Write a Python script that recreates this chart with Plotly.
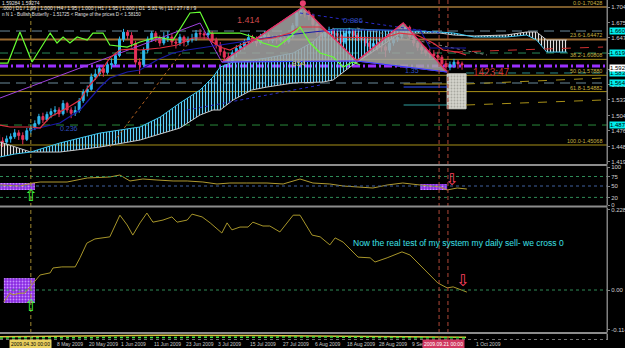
import plotly.graph_objects as go

# ---------------- data ----------------
# daily bars, bar 0 = 20 Apr 2009
bar_idx = list(range(116))
opens = [1.470,1.458,1.456,1.462,1.466,1.473,1.468,1.461,1.477,1.482,
         1.490,1.503,1.497,1.507,1.512,1.515,1.508,1.527,1.515,1.509,
         1.514,1.532,1.548,1.553,1.576,1.581,1.591,1.584,1.598,1.600,
         1.615,1.645,1.658,1.652,1.637,1.603,1.598,1.625,1.645,1.656,
         1.647,1.638,1.648,1.649,1.640,1.638,1.649,1.640,1.644,1.646,
         1.656,1.655,1.653,1.656,1.643,1.634,1.622,1.612,1.606,1.620,
         1.628,1.632,1.640,1.648,1.645,1.638,1.649,1.652,1.643,1.645,
         1.644,1.647,1.641,1.650,1.670,1.693,1.698,1.695,1.688,1.672,
         1.656,1.650,1.656,1.662,1.656,1.652,1.640,1.656,1.660,1.652,
         1.649,1.645,1.638,1.632,1.637,1.631,1.631,1.625,1.638,1.645,
         1.649,1.660,1.667,1.650,1.638,1.630,1.625,1.620,1.618,1.615,
         1.612,1.600,1.594,1.598,1.603,1.600]
highs = [1.474,1.465,1.468,1.472,1.480,1.478,1.474,1.482,1.488,1.496,
         1.508,1.510,1.512,1.518,1.522,1.520,1.533,1.530,1.520,1.522,
         1.537,1.553,1.560,1.582,1.590,1.596,1.598,1.603,1.610,1.620,
         1.650,1.664,1.662,1.658,1.642,1.610,1.630,1.650,1.660,1.660,
         1.652,1.658,1.660,1.655,1.646,1.655,1.652,1.650,1.655,1.662,
         1.664,1.660,1.662,1.660,1.648,1.640,1.628,1.620,1.625,1.634,
         1.638,1.645,1.655,1.653,1.650,1.655,1.660,1.656,1.652,1.652,
         1.655,1.650,1.656,1.675,1.697,1.7043,1.702,1.699,1.692,1.678,
         1.662,1.661,1.668,1.666,1.660,1.655,1.660,1.666,1.663,1.657,
         1.654,1.650,1.642,1.643,1.641,1.638,1.635,1.642,1.650,1.654,
         1.665,1.672,1.670,1.656,1.642,1.636,1.631,1.628,1.625,1.622,
         1.616,1.606,1.604,1.609,1.607,1.604]
lows = [1.452,1.447,1.450,1.455,1.462,1.460,1.452,1.458,1.470,1.478,
        1.487,1.491,1.494,1.500,1.505,1.502,1.505,1.510,1.500,1.504,
        1.510,1.528,1.540,1.550,1.570,1.577,1.576,1.580,1.590,1.596,
        1.612,1.640,1.645,1.630,1.598,1.581,1.594,1.620,1.640,1.640,
        1.632,1.634,1.640,1.634,1.628,1.633,1.632,1.634,1.639,1.642,
        1.648,1.645,1.648,1.638,1.628,1.615,1.605,1.598,1.602,1.612,
        1.622,1.626,1.636,1.638,1.632,1.635,1.644,1.638,1.638,1.637,
        1.640,1.635,1.637,1.646,1.666,1.688,1.685,1.680,1.665,1.650,
        1.643,1.645,1.650,1.650,1.645,1.634,1.636,1.650,1.646,1.642,
        1.639,1.632,1.626,1.628,1.624,1.622,1.612,1.620,1.633,1.640,
        1.645,1.655,1.645,1.632,1.624,1.618,1.614,1.610,1.608,1.605,
        1.594,1.586,1.588,1.592,1.591,1.589]
closes = [1.458,1.456,1.462,1.466,1.473,1.468,1.461,1.477,1.482,1.490,
          1.503,1.497,1.507,1.512,1.515,1.508,1.527,1.515,1.509,1.514,
          1.532,1.548,1.553,1.576,1.581,1.591,1.584,1.598,1.600,1.615,
          1.645,1.658,1.652,1.637,1.603,1.598,1.625,1.645,1.656,1.647,
          1.638,1.648,1.649,1.640,1.638,1.649,1.640,1.644,1.646,1.656,
          1.655,1.653,1.656,1.643,1.634,1.622,1.612,1.606,1.620,1.628,
          1.632,1.640,1.648,1.645,1.638,1.649,1.652,1.643,1.645,1.644,
          1.647,1.641,1.650,1.670,1.693,1.698,1.695,1.688,1.672,1.656,
          1.650,1.656,1.662,1.656,1.652,1.640,1.656,1.660,1.652,1.649,
          1.645,1.638,1.632,1.637,1.631,1.631,1.625,1.638,1.645,1.649,
          1.660,1.667,1.650,1.638,1.630,1.625,1.620,1.618,1.615,1.612,
          1.600,1.594,1.598,1.603,1.600,1.598]

# Ichimoku cloud boundaries
cloud_x = [0.35, 4.0, 8.0, 15.2, 25.2, 35.1, 40.1, 45.0, 50.0, 53.2, 55.0, 58.2, 62.8, 66.6, 73.1,
           78.0, 80.5, 83.0, 87.2, 94.6, 99.6, 109.5, 113.0, 118.0, 126.0, 131.0, 133.5, 136.0, 141.0]
span_a = [1.4287, 1.4341, 1.4378, 1.4544, 1.4727, 1.4838, 1.5021, 1.5279, 1.5517, 1.5756, 1.5940, 1.6032,
          1.6068, 1.6105, 1.6197, 1.6400, 1.6564, 1.6640, 1.6640, 1.6620, 1.6620, 1.6583, 1.6564, 1.6491,
          1.6491, 1.6528, 1.6436, 1.6215, 1.6215]
span_b = [1.4562, 1.4470, 1.4378, 1.4378, 1.4470, 1.4599, 1.4710, 1.4819, 1.5058, 1.5150, 1.5150, 1.5334,
          1.5517, 1.5572, 1.5646, 1.5664, 1.5664, 1.5701, 1.5940, 1.6307, 1.6564, 1.6564, 1.6528, 1.6510,
          1.6528, 1.6583, 1.6583, 1.6436, 1.6436]

chikou_x = [0.35, 2.3, 5.3, 8.3, 12.8, 14.5, 16.0, 17.7, 19.5, 22.0, 23.4, 25.9, 27.6, 31.9, 35.1, 39.3, 43.3,
            47.5, 50.0, 52.5, 55.7, 59.9, 63.1, 65.6, 69.1, 72.3, 74.8, 77.3, 79.8, 83.0, 85.5, 87.9, 89.7]
chikou_y = [1.6013, 1.6013, 1.6583, 1.6032, 1.6564, 1.6381, 1.6491, 1.6381, 1.6491, 1.6436, 1.6564, 1.6564,
            1.6344, 1.6307, 1.6399, 1.6491, 1.6436, 1.6932, 1.6950, 1.6564, 1.6564, 1.6564, 1.6491, 1.6381,
            1.6307, 1.6491, 1.6675, 1.6381, 1.6197, 1.6124, 1.5940, 1.6032, 1.5977]

tenkan_x = [0.35, 2.8, 8.3, 10.3, 12.8, 17.0, 20.2, 22.2, 24.4, 27.6, 30.1, 32.6, 35.1, 40.1, 44.3, 48.2, 51.7,
            54.9, 57.4, 59.9, 63.1, 68.1, 72.3, 74.8, 79.8, 83.0, 95.4, 99.6, 103.8, 107.8, 110.3, 113.8, 116.0]
tenkan_y = [1.4874, 1.4838, 1.4838, 1.4819, 1.5021, 1.5187, 1.5334, 1.5572, 1.5756, 1.6105, 1.6252, 1.6270,
            1.6252, 1.6289, 1.6344, 1.6473, 1.6473, 1.6307, 1.6252, 1.6344, 1.6436, 1.6473, 1.6564, 1.6675,
            1.6675, 1.6491, 1.6473, 1.6564, 1.6528, 1.6381, 1.6252, 1.6215, 1.6160]

kijun_x = [7.8, 15.2, 20.2, 25.2, 27.6, 31.9, 35.1, 39.3, 43.3, 46.8, 51.7, 54.9, 59.9, 64.9, 71.6, 78.0, 83.0,
           104.6, 107.1, 116.0]
kijun_y = [1.4783, 1.4911, 1.5150, 1.5572, 1.5738, 1.5848, 1.5885, 1.6068, 1.6197, 1.6252, 1.6307, 1.6344,
           1.6399, 1.6454, 1.6528, 1.6583, 1.6620, 1.6620, 1.6289, 1.6289]

zigzag_x = [0.35, 46.8, 50.0, 55.4]
zigzag_y = [1.5370, 1.6656, 1.6748, 1.6032]

# Butterfly X-A-B-C-D
pattern_x = [55.4, 75.5, 88.9, 100.4, 111.3]
pattern_y = [1.6032, 1.7043, 1.6050, 1.6748, 1.5848]
ratio_text = ['1.414', '0.886', '854', '1.35', '0.236']
ratio_x = [62.0, 88.0, 74.5, 102.5, 17.5]
ratio_y = [1.6803, 1.6803, 1.6013, 1.5885, 1.4819]

prz_x = [111.3, 116.0]
prz_y = [1.51725, 1.58150]

fib_pct = [0.0, 23.6, 38.2, 50.0, 61.8, 100.0]
fib_price = [1.70428, 1.64472, 1.60808, 1.57880, 1.54882, 1.45068]

level_price = [1.6601, 1.6197, 1.5958, 1.5646, 1.4874]
box_price = [1.66010, 1.61970, 1.58300, 1.56460, 1.48740]
bid_price = 1.59284

trend_x = [[46.8, 79.8], [27.6, 46.8], [74.8, 109.5], [88.9, 121.2]]
trend_y = [[1.5150, 1.5609], [1.4470, 1.6344], [1.6932, 1.6564], [1.6656, 1.6160]]
proj_x = [[113.0, 150.0], [116.0, 150.0], [116.0, 150.0]]
proj_y = [[1.6215, 1.6307], [1.5628, 1.5738], [1.5242, 1.5334]]
short_x = [100.5, 111.3]
short_y = [1.5628, 1.5572, 1.5242]

price_ticks = [1.70420, 1.67570, 1.64730, 1.61880, 1.59030, 1.56190, 1.53340, 1.50490, 1.47650, 1.44800, 1.41950]

rsi_x = [0.35, 5.3, 8.5, 10.3, 17.0, 22.0, 27.6, 30.1, 32.6, 35.8, 39.3, 43.3, 46.8, 50.7, 54.2, 57.4, 61.6,
         66.6, 70.6, 74.8, 78.0, 82.2, 85.5, 89.7, 92.9, 96.4, 100.3, 104.6, 109.5, 111.3, 113.8, 116.2]
rsi_v = [52.6, 50.0, 57.9, 60.5, 60.5, 71.1, 73.7, 78.9, 63.2, 68.4, 65.8, 63.2, 63.2, 60.5, 55.3, 57.9, 57.9,
         57.9, 55.3, 68.4, 57.9, 55.3, 50.0, 47.4, 44.7, 52.6, 57.9, 52.6, 47.4, 39.5, 44.7, 42.1]
rsi_levels = [75, 50, 20]
rsi_ticks = [100, 75, 50, 20, 0]
rsi_box_x = [[0.35, 9.0], [104.6, 111.3]]
rsi_box_y = [[39.5, 57.9], [39.5, 55.3]]

osc_x = [1.3, 2.8, 3.6, 5.3, 6.5, 8.5, 10.3, 12.8, 13.5, 15.7, 17.0, 19.0, 20.2, 21.9, 23.9, 27.6, 30.1, 31.9,
         33.3, 35.1, 36.8, 38.3, 40.8, 43.0, 44.3, 46.8, 48.0, 50.5, 52.5, 55.4, 56.7, 57.9, 59.9, 61.9, 63.1,
         65.6, 67.3, 69.8, 73.1, 74.8, 77.8, 79.8, 82.2, 83.5, 85.5, 89.2, 92.2, 93.4, 96.4, 100.1, 102.1, 105.8,
         109.0, 111.3, 112.8, 116.2]
osc_v = [-0.034, -0.009, -0.014, -0.009, -0.009, 0.020, 0.043, 0.049, 0.063, 0.066, 0.066, 0.066, 0.092, 0.134,
         0.146, 0.152, 0.214, 0.186, 0.157, 0.192, 0.220, 0.194, 0.200, 0.209, 0.194, 0.200, 0.217, 0.209, 0.192,
         0.163, 0.192, 0.172, 0.180, 0.180, 0.194, 0.183, 0.183, 0.166, 0.214, 0.214, 0.157, 0.152, 0.129, 0.149,
         0.137, 0.094, 0.092, 0.080, 0.092, 0.109, 0.100, 0.057, 0.020, 0.006, 0.009, -0.006]
osc_ticks = [0.2288, 0.0, -0.1142]
osc_tick_text = ['0.2288', '0.00', '-0.1142']
osc_box_x = [1.3, 9.0]
osc_box_y = [-0.037, 0.034]

strip_x = [0.35, 20, 40, 60, 80, 100, 116]
strip_a = [0.55, 0.70, 0.80, 0.75, 0.60, 0.50, 0.45]
strip_b = [0.35, 0.40, 0.50, 0.55, 0.50, 0.40, 0.35]

vline_bar = [8.0, 109.3, 111.5]
date_bar = [-1.6, 14, 22, 30, 38, 46, 54, 62, 70, 78, 86, 94, 102, 118]
date_text = ['20 Apr 2009', '8 May 2009', '20 May 2009', '1 Jun 2009', '11 Jun 2009', '23 Jun 2009',
             '3 Jul 2009', '15 Jul 2009', '27 Jul 2009', '6 Aug 2009', '18 Aug 2009', '28 Aug 2009',
             '9 Sep 2009', '1 Oct 2009']
mark_date_bar = [8.0, 110.4]
mark_date_text = ['2009.04.30 00:00', '2009.09.21 00:00']

# ---------------- figure ----------------
H = 348
def dom(top, bot):
    return [1 - bot / H, 1 - top / H]

def py(px):
    return 1 - px / H

FONT = 'Liberation Sans, Arial, sans-serif'
fig = go.Figure()

# cloud
segments = [(0, 3, '#e0e0e0'), (2, 24, '#5fd3ff'), (23, len(cloud_x), '#e0e0e0')]
for a, b, col in segments:
    xs = cloud_x[a:b]
    fig.add_trace(go.Scatter(x=xs, y=span_b[a:b], mode='lines',
                             line=dict(color='#c8c8c8', width=1), xaxis='x', yaxis='y'))
    fig.add_trace(go.Scatter(x=xs, y=span_a[a:b], mode='lines', line=dict(color='#3fc8f0', width=1),
                             fill='tonexty', fillcolor='rgba(0,0,0,0)',
                             fillpattern=dict(shape='|', fgcolor=col, bgcolor='rgba(0,0,0,0)',
                                              size=3, solidity=0.4),
                             xaxis='x', yaxis='y'))

# butterfly triangles
tri = [(0, 1, 2), (2, 3, 4)]
for t in tri:
    fig.add_trace(go.Scatter(x=[pattern_x[i] for i in t] + [pattern_x[t[0]]],
                             y=[pattern_y[i] for i in t] + [pattern_y[t[0]]],
                             mode='lines', fill='toself', fillcolor='rgba(165,165,165,0.85)',
                             line=dict(color='#b050e0', width=1), xaxis='x', yaxis='y'))

# PRZ box
fig.add_trace(go.Scatter(x=[prz_x[0], prz_x[1], prz_x[1], prz_x[0], prz_x[0]],
                         y=[prz_y[0], prz_y[0], prz_y[1], prz_y[1], prz_y[0]],
                         mode='lines', fill='toself', fillcolor='rgba(205,205,195,0.95)',
                         fillpattern=dict(shape='.', fgcolor='#a8a8a0', bgcolor='#d4d4cc', size=3, solidity=0.3),
                         line=dict(color='#d0d0c8', width=1), xaxis='x', yaxis='y'))

# dotted trend lines
trend_col = ['#2a2ac8', '#b06020', '#2a2ac8', '#808080']
for xs, ys, c in zip(trend_x, trend_y, trend_col):
    fig.add_trace(go.Scatter(x=xs, y=ys, mode='lines', line=dict(color=c, width=1, dash='dot'),
                             xaxis='x', yaxis='y'))
proj_col = ['#d03030', '#a89018', '#a89018']
for xs, ys, c in zip(proj_x, proj_y, proj_col):
    fig.add_trace(go.Scatter(x=xs, y=ys, mode='lines', line=dict(color=c, width=1, dash='dash'),
                             xaxis='x', yaxis='y'))
short_col = ['#a89018', '#3050ff', '#30a0a0']
for yv, c in zip(short_y, short_col):
    fig.add_trace(go.Scatter(x=short_x, y=[yv, yv], mode='lines', line=dict(color=c, width=1),
                             xaxis='x', yaxis='y'))

# purple zigzag
fig.add_trace(go.Scatter(x=zigzag_x, y=zigzag_y, mode='lines', line=dict(color='#a040e0', width=1),
                         xaxis='x', yaxis='y'))

# candles
fig.add_trace(go.Candlestick(x=bar_idx, open=opens, high=highs, low=lows, close=closes,
                             increasing=dict(line=dict(color='#2fb8ee', width=1), fillcolor='#2fb8ee'),
                             decreasing=dict(line=dict(color='#e8325a', width=1), fillcolor='#e8325a'),
                             whiskerwidth=0, xaxis='x', yaxis='y'))

# ichimoku lines
fig.add_trace(go.Scatter(x=kijun_x, y=kijun_y, mode='lines', line=dict(color='#1a1aa8', width=1.2),
                         xaxis='x', yaxis='y'))
fig.add_trace(go.Scatter(x=tenkan_x, y=tenkan_y, mode='lines', line=dict(color='#e03040', width=1.2),
                         xaxis='x', yaxis='y'))
fig.add_trace(go.Scatter(x=chikou_x, y=chikou_y, mode='lines', line=dict(color='#66ff33', width=1.2),
                         xaxis='x', yaxis='y'))

# pattern legs
fig.add_trace(go.Scatter(x=pattern_x, y=pattern_y, mode='lines', line=dict(color='#e83060', width=1.3),
                         xaxis='x', yaxis='y'))
fig.add_trace(go.Scatter(x=[pattern_x[0], pattern_x[2], pattern_x[4]],
                         y=[pattern_y[0], pattern_y[2], pattern_y[4]], mode='lines',
                         line=dict(color='#3040ff', width=1), xaxis='x', yaxis='y'))
fig.add_trace(go.Scatter(x=[pattern_x[1]], y=[pattern_y[1] + 0.007], mode='markers',
                         marker=dict(color='#e84070', size=6), xaxis='x', yaxis='y'))

# RSI panel
for xs, ys in zip(rsi_box_x, rsi_box_y):
    fig.add_trace(go.Scatter(x=[xs[0], xs[1], xs[1], xs[0], xs[0]], y=[ys[0], ys[0], ys[1], ys[1], ys[0]],
                             mode='lines', fill='toself', fillcolor='#8a2be2',
                             fillpattern=dict(shape='.', fgcolor='#c890ff', bgcolor='#8a2be2', size=3, solidity=0.3),
                             line=dict(color='#9a40ff', width=0), xaxis='x2', yaxis='y2'))
fig.add_trace(go.Scatter(x=rsi_x, y=rsi_v, mode='lines', line=dict(color='#b09a30', width=1),
                         xaxis='x2', yaxis='y2'))

# oscillator panel
fig.add_trace(go.Scatter(x=[osc_box_x[0], osc_box_x[1], osc_box_x[1], osc_box_x[0], osc_box_x[0]],
                         y=[osc_box_y[0], osc_box_y[0], osc_box_y[1], osc_box_y[1], osc_box_y[0]],
                         mode='lines', fill='toself', fillcolor='#8a2be2',
                         fillpattern=dict(shape='.', fgcolor='#c890ff', bgcolor='#8a2be2', size=3, solidity=0.3),
                         line=dict(color='#9a40ff', width=0), xaxis='x3', yaxis='y3'))
fig.add_trace(go.Scatter(x=osc_x, y=osc_v, mode='lines', line=dict(color='#a8962a', width=1),
                         xaxis='x3', yaxis='y3'))

# bottom strip
fig.add_trace(go.Scatter(x=strip_x, y=strip_a, mode='lines', line=dict(color='#d8c040', width=1.5),
                         xaxis='x4', yaxis='y4'))
fig.add_trace(go.Scatter(x=strip_x, y=strip_b, mode='lines', line=dict(color='#40e040', width=1.5, dash='dot'),
                         xaxis='x4', yaxis='y4'))

# ---------------- shapes ----------------
shapes = []
fib_col = ['#7a5a2a', '#9a6a30', '#a89018', '#a89018', '#a89018', '#a89018']
fib_w = [2, 2, 1, 1, 1, 1]
for p, c, w in zip(fib_price, fib_col, fib_w):
    shapes.append(dict(type='line', xref='paper', yref='y', x0=0, x1=1, y0=p, y1=p,
                       line=dict(color=c, width=w), layer='below'))
lvl_col = ['#6a8a9a', '#2a8a5a', '#9a30ff', '#6a8a9a', '#2a8a3a']
lvl_dash = ['10px,6px', '8px,6px', '8px,3px,2px,3px', '10px,6px', '8px,6px']
lvl_w = [1, 1, 3, 1, 1]
for p, c, d, w in zip(level_price, lvl_col, lvl_dash, lvl_w):
    shapes.append(dict(type='line', xref='paper', yref='y', x0=0, x1=1, y0=p, y1=p,
                       line=dict(color=c, width=w, dash=d), layer='below'))
shapes.append(dict(type='line', xref='x', yref='y', x0=116, x1=150.97, y0=box_price[2], y1=box_price[2],
                   line=dict(color='#2a8a8a', width=1, dash='8px,6px'), layer='below'))
for v in rsi_levels:
    shapes.append(dict(type='line', xref='paper', yref='y2', x0=0, x1=1, y0=v, y1=v,
                       line=dict(color='#4060a0' if v == 50 else '#2e8b57', width=1, dash='dot')))
shapes.append(dict(type='line', xref='paper', yref='y3', x0=0, x1=1, y0=0, y1=0,
                   line=dict(color='#2e8b57', width=1, dash='dot')))
vcol = ['#a08830', '#b04838', '#b04838']
for b, c in zip(vline_bar, vcol):
    shapes.append(dict(type='line', xref='x', yref='paper', x0=b, x1=b, y0=py(340), y1=1,
                       line=dict(color=c, width=1, dash='4px,3px')))
for ypx in [165, 206.5, 333]:
    shapes.append(dict(type='line', xref='paper', yref='paper', x0=0, x1=1, y0=py(ypx), y1=py(ypx),
                       line=dict(color='#8c8c8c', width=2)))
shapes.append(dict(type='line', xref='paper', yref='paper', x0=0, x1=1, y0=py(339.5), y1=py(339.5),
                   line=dict(color='#707070', width=1, dash='dot')))
shapes.append(dict(type='line', xref='paper', yref='paper', x0=1, x1=1, y0=py(340), y1=1,
                   line=dict(color='#808080', width=1)))

# ---------------- annotations ----------------
ann = []
hdr = [("1.59284 1.59274", 2.5, 5),
       (".000 | D1 / 1.99 | 1.000 | H4 / 1.95 | 1.000 | H1 / 1.95 | 1.000 | D1  5.81 % | 11 / 27 / 8 / 9", 7.5, 5),
       ("n N 1 - Bullish Butterfly - 1.51725 < Range of the prices D < 1.58150", 14.5, 4.6)]
for t, ypx, s in hdr:
    ann.append(dict(text=t, xref='paper', yref='paper', x=0, y=py(ypx), xanchor='left', yanchor='middle',
                    showarrow=False, font=dict(family=FONT, size=s, color='#e0e0e0')))
for pct, p in zip(fib_pct, fib_price):
    ann.append(dict(text=f"{pct:.1f}-{p:.5f}", xref='x', yref='y', x=150.3, y=p, xanchor='right',
                    yanchor='bottom', showarrow=False, yshift=-1,
                    font=dict(family=FONT, size=5.5, color='#c8b040')))
for p in box_price:
    ann.append(dict(text=f"{p:.5f}", xref='paper', yref='y', x=1, y=p, xanchor='left', yanchor='middle',
                    xshift=2, showarrow=False, bgcolor='#00eeee', borderpad=0,
                    font=dict(family=FONT, size=6, color='#000000')))
ann.append(dict(text=f"{bid_price:.5f}", xref='paper', yref='y', x=1, y=bid_price, xanchor='left',
                yanchor='middle', xshift=2, showarrow=False, bgcolor='#ffffff', borderpad=0,
                font=dict(family=FONT, size=6, color='#000000')))
ratio_col = ['#c84848', '#3050c0', '#d0c060', '#3050c0', '#3050c0']
ratio_size = [9, 8, 8, 7, 7]
for t, x, y, c, s in zip(ratio_text, ratio_x, ratio_y, ratio_col, ratio_size):
    ann.append(dict(text=t, xref='x', yref='y', x=x, y=y, showarrow=False,
                    font=dict(family=FONT, size=s, color=c)))
ann.append(dict(text='1423:47', xref='x', yref='y', x=117.3, y=1.5848, xanchor='left', showarrow=False,
                font=dict(family=FONT, size=10, color='#c83030')))
ann.append(dict(text='Now the real test of my system my daily sell- we cross 0', xref='x', yref='y3',
                x=87.4, y=0.134, xanchor='left', showarrow=False,
                font=dict(family=FONT, size=8.5, color='#3ee0e8')))
arrows = [('⇧', 8.0, 26, 'y2', '#40ff40'), ('⇧', 8.0, -0.045, 'y3', '#40ff40'),
          ('⇩', 112.3, 68, 'y2', '#ff4060'), ('⇩', 115.0, 0.028, 'y3', '#ff4060')]
for t, x, y, yr, c in arrows:
    ann.append(dict(text=t, xref='x', yref=yr, x=x, y=y, showarrow=False,
                    font=dict(family='DejaVu Sans', size=16, color=c)))
for b, t in zip(date_bar, date_text):
    ann.append(dict(text=t, xref='x', yref='paper', x=b, y=py(343.5), xanchor='left', yanchor='middle',
                    showarrow=False, font=dict(family=FONT, size=5, color='#c8c8c8')))
mcol = [('#e8d060', '#000000'), ('#d03860', '#ffffff')]
for b, t, (bg, fc) in zip(mark_date_bar, mark_date_text, mcol):
    ann.append(dict(text=t, xref='x', yref='paper', x=b, y=py(343.5), xanchor='center', yanchor='middle',
                    showarrow=False, bgcolor=bg, borderpad=1, font=dict(family=FONT, size=5, color=fc)))

# ---------------- layout ----------------
XR = [0.35, 150.97]
cx = dict(range=XR, showgrid=False, zeroline=False, showticklabels=False, showline=False, ticks='',
          fixedrange=True)
tf = dict(family=FONT, size=6, color='#d0d0d0')
cy = dict(side='right', showgrid=False, zeroline=False, showline=True, linecolor='#808080', ticks='outside',
          ticklen=2, tickcolor='#808080', tickfont=tf, automargin=False, fixedrange=True)
fig.update_layout(
    template='none', width=625, height=348, margin=dict(l=0, r=18, t=0, b=0),
    paper_bgcolor='#000000', plot_bgcolor='#000000', showlegend=False, hovermode=False,
    xaxis=dict(cx, anchor='y', rangeslider=dict(visible=False)),
    xaxis2=dict(cx, anchor='y2', matches='x'),
    xaxis3=dict(cx, anchor='y3', matches='x'),
    xaxis4=dict(cx, anchor='y4', matches='x'),
    yaxis=dict(cy, domain=dom(0, 164), range=[1.4158, 1.7171], anchor='x',
               tickvals=price_ticks, ticktext=[f"{v:.5f}" for v in price_ticks]),
    yaxis2=dict(cy, domain=dom(167, 205), range=[0, 100], anchor='x2',
                tickvals=rsi_ticks, ticktext=[str(v) for v in rsi_ticks]),
    yaxis3=dict(cy, domain=dom(208, 332), range=[-0.1201, 0.2345], anchor='x3',
                tickvals=osc_ticks, ticktext=osc_tick_text),
    yaxis4=dict(cy, domain=dom(334, 340), range=[0, 1], anchor='x4', showticklabels=False, ticks=''),
    shapes=shapes, annotations=ann,
)

fig.write_html("out.html")
